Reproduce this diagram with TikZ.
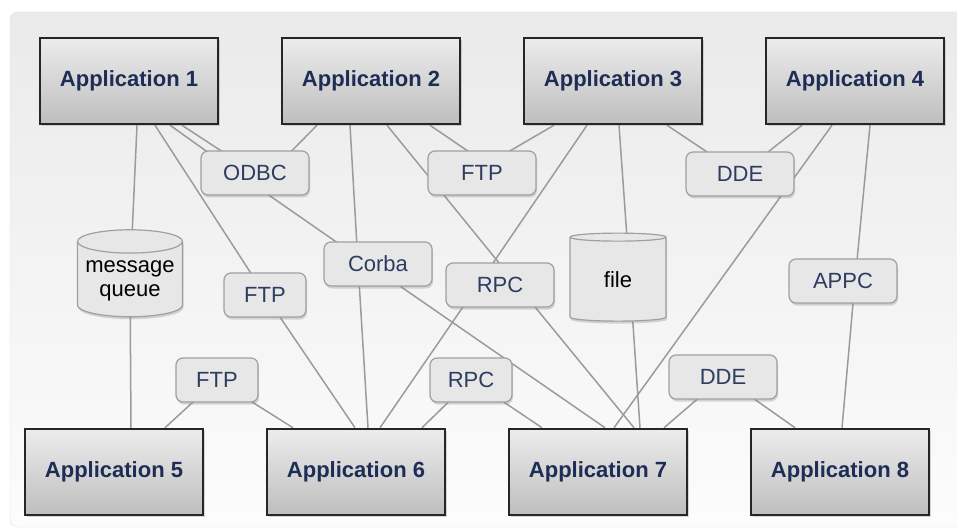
\documentclass[tikz,border=0pt]{standalone}
\usepackage{fontspec}
\setmainfont{Liberation Sans}
\usetikzlibrary{positioning,shapes.geometric,shadows}
\definecolor{appfg}{RGB}{30,45,85}
\definecolor{boxfg}{RGB}{45,60,95}
\definecolor{wirecol}{RGB}{155,155,155}
\definecolor{boxline}{RGB}{160,160,160}
\definecolor{boxfill}{RGB}{231,231,231}
\definecolor{apptop}{RGB}{236,236,236}
\definecolor{appbot}{RGB}{190,190,190}
\definecolor{paneltop}{RGB}{234,234,234}
\definecolor{panelbot}{RGB}{252,252,252}
\pgfdeclarelayer{panel}
\pgfdeclarelayer{wires}
\pgfsetlayers{panel,wires,main}
\begin{document}
\begin{tikzpicture}[x=1pt,y=-1pt,node distance={242pt},
    font=\fontsize{22pt}{24pt}\selectfont,
    app/.style={draw=black!85,line width=2.5pt,top color=apptop,bottom color=appbot,
        minimum width=178pt,minimum height=86pt,text=appfg,font=\fontsize{22pt}{24pt}\selectfont\bfseries,
        drop shadow={shadow xshift=2pt,shadow yshift=-2pt,opacity=0.3}},
    link/.style={draw=boxline,line width=1.2pt,fill=boxfill,rounded corners=7pt,
        minimum width=108pt,minimum height=44pt,text=boxfg,
        drop shadow={shadow xshift=1pt,shadow yshift=-2.5pt,opacity=0.3}},
    narrow/.style={minimum width=82pt},
    store/.style={cylinder,shape border rotate=90,aspect=0.25,draw=boxline,line width=1.2pt,
        fill=boxfill,align=center,inner sep=2pt,
        drop shadow={shadow xshift=1pt,shadow yshift=-2.5pt,opacity=0.3}},
    wire/.style={draw=wirecol,line width=1.5pt}]
    \useasboundingbox (0,0) rectangle (957,529);
    \node[app](a1) at (129,81){Application 1};
    \node[app](a2)[right of=a1]{Application 2};
    \node[app](a3)[right of=a2]{Application 3};
    \node[app](a4)[right of=a3]{Application 4};
    \node[app](a5) at (114,472){Application 5};
    \node[app](a6)[right of=a5]{Application 6};
    \node[app](a7)[right of=a6]{Application 7};
    \node[app](a8)[right of=a7]{Application 8};
    \node[link](odbc) at (255,173){ODBC};
    \node[link](ftpA) at (482,173){FTP};
    \node[link](ddeA) at (740,174){DDE};
    \node[link](corba) at (378,264){Corba};
    \node[link](rpcA) at (500,285){RPC};
    \node[link,narrow](ftpB) at (265,295){FTP};
    \node[link](appc) at (843,281){APPC};
    \node[link,narrow](ftpC) at (217,380){FTP};
    \node[link,narrow](rpcB) at (471,380){RPC};
    \node[link](ddeB) at (723,377){DDE};
    \node[store,minimum width=105pt,minimum height=87pt](mq) at (130,281){message\\queue};
    \node[store,minimum width=96pt,minimum height=88pt](file) at (618,280){file};
    \begin{pgfonlayer}{panel}
        \fill[white](0,0) rectangle (957,529);
        \draw[black!12,top color=paneltop,bottom color=panelbot,rounded corners=8pt](10,12) rectangle (980,527);
    \end{pgfonlayer}
    \begin{pgfonlayer}{wires}
        \draw[wire]([xshift=8pt]a1.south) -- (mq.center) -- ([xshift=17pt]a5.north);
        \draw[wire]([xshift=26pt]a1.south) -- (ftpB.center) -- ([xshift=-1pt]a6.north);
        \draw[wire]([xshift=41pt]a1.south) -- ([xshift=-18pt]odbc.center) -- ([xshift=-10pt]corba.center) -- ([xshift=7pt]a7.north);
        \draw[wire]([xshift=53pt]a1.south) -- (odbc.center);
        \draw[wire]([xshift=15pt]odbc.center) -- ([xshift=-54pt]a2.south);
        \draw[wire]([xshift=-21pt]a2.south) -- ([xshift=-20pt]corba.center) -- ([xshift=12pt]a6.north);
        \draw[wire]([xshift=16pt]a2.south) -- ([xshift=17pt]rpcA.center) -- ([xshift=36pt]a7.north);
        \draw[wire]([xshift=59pt]a2.south) -- ([xshift=18pt]ftpA.center);
        \draw[wire]([xshift=-59pt]a3.south) -- ([xshift=-10pt]ftpA.center);
        \draw[wire]([xshift=-26pt]a3.south) -- ([xshift=-22pt]rpcA.center) -- ([xshift=24pt]a6.north);
        \draw[wire]([xshift=6pt]a3.south) -- ([xshift=12pt]file.center) -- ([xshift=42pt]a7.north);
        \draw[wire]([xshift=54pt]a3.south) -- (ddeA.center) -- ([xshift=-53pt]a4.south);
        \draw[wire]([xshift=-23pt]a4.south) -- ([xshift=16pt]a7.north);
        \draw[wire]([xshift=15pt]a4.south) -- ([xshift=12pt]appc.center) -- ([xshift=2pt]a8.north);
        \draw[wire]([xshift=51pt]a5.north) -- (ftpC.center) -- ([xshift=-63pt]a6.north);
        \draw[wire]([xshift=66pt]a6.north) -- (rpcB.center) -- ([xshift=-56pt]a7.north);
        \draw[wire]([xshift=66pt]a7.north) -- (ddeB.center) -- ([xshift=-45pt]a8.north);
    \end{pgfonlayer}
\end{tikzpicture}
\end{document}
